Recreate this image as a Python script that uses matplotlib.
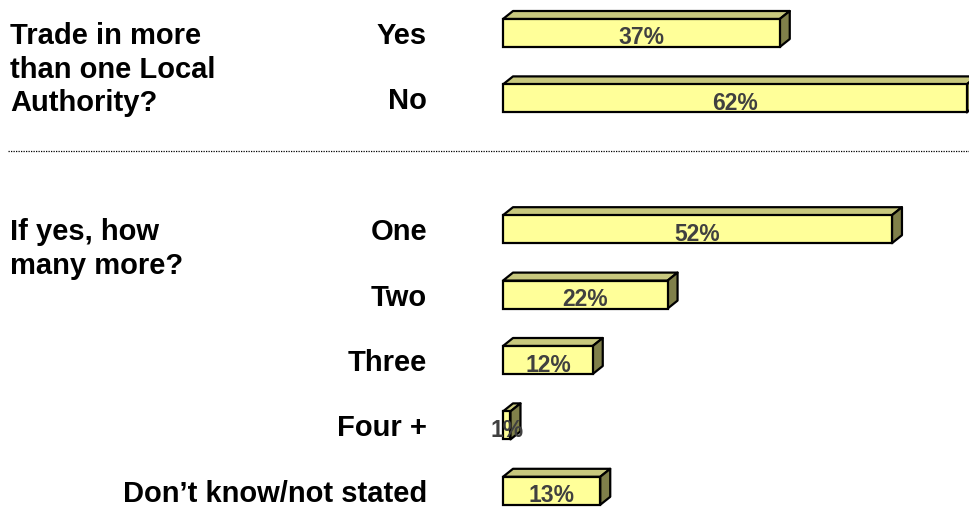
import matplotlib
matplotlib.use("Agg")
import matplotlib.pyplot as plt
from matplotlib.patches import Polygon
from matplotlib.transforms import blended_transform_factory

# data
categories = ["Yes", "No", "One", "Two", "Three", "Four +", "Don\u2019t know/not stated"]
values = [37, 62, 52, 22, 12, 1, 13]
rows = [0, 1, 3, 4, 5, 6, 7]
group_labels = [["Trade in more", "than one Local", "Authority?"],
                ["If yes, how", "many more?"]]
group_rows = [0, 3]

plt.rcParams['font.family'] = ['Liberation Sans', 'DejaVu Sans']
plt.rcParams['font.weight'] = 'bold'

face = '#FFFF99'
top = '#C8C87E'
side = '#80804A'

fig = plt.figure(figsize=(9.7, 5.14), dpi=100)
ax = fig.add_axes([0, 0, 1, 1])
px_per_pct = 7.48
px_per_row = 65.4
ax.set_xlim(-503 / px_per_pct, 467 / px_per_pct)
ax.set_ylim(481 / px_per_row, -33 / px_per_row)
ax.axis('off')

h = 28 / px_per_row
dx = 10 / px_per_pct
dy = 8 / px_per_row

ax.barh(rows, values, height=h, left=0, color=face, edgecolor='black', linewidth=1.6, zorder=3)
for v, y in zip(values, rows):
    yt = y - h / 2
    yb = y + h / 2
    ax.add_patch(Polygon([(0, yt), (v, yt), (v + dx, yt - dy), (dx, yt - dy)], closed=True,
                         facecolor=top, edgecolor='black', linewidth=1.6, joinstyle='round', zorder=2))
    ax.add_patch(Polygon([(v, yt), (v + dx, yt - dy), (v + dx, yb - dy), (v, yb)], closed=True,
                         facecolor=side, edgecolor='black', linewidth=1.6, joinstyle='round', zorder=2))
    ax.text(v / 2, yb - 2.5 / px_per_row, f"{v}%", ha='center', va='baseline',
            fontsize=16.5, fontweight='bold', color='#404040', zorder=5)

trans = blended_transform_factory(ax.transAxes, ax.transData)
for lab, y in zip(categories, rows):
    ax.text(427 / 970, y + 11 / px_per_row, lab, transform=trans, ha='right', va='baseline',
            fontsize=21, fontweight='bold', color='black')

for lines, y in zip(group_labels, group_rows):
    for i, line in enumerate(lines):
        ax.text(10 / 970, y + (11 + 33.5 * i) / px_per_row, line, transform=trans,
                ha='left', va='baseline', fontsize=21, fontweight='bold', color='black')

ax.axhline((151 - 33) / px_per_row, xmin=8 / 970, xmax=1, color='black',
           linewidth=0.9, linestyle=(0, (1, 1)))

fig.savefig("out.png", dpi=100)
